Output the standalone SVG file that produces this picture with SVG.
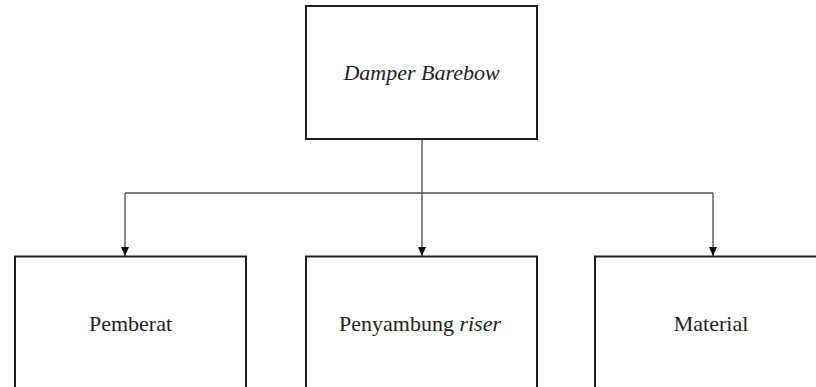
<svg xmlns="http://www.w3.org/2000/svg" width="816" height="387" viewBox="0 0 816 387">
<defs>
<style>
.box{fill:#fff;stroke:#1e1e1e;stroke-width:2}
.lbl{font-family:"Liberation Serif","Times New Roman",serif;font-size:22px;fill:#222;text-anchor:middle}
.it{font-style:italic}
.con{fill:none;stroke:#555;stroke-width:1.4}
</style>
<marker id="ah" markerWidth="10" markerHeight="10" refX="9" refY="4.5" orient="auto" markerUnits="userSpaceOnUse" viewBox="0 0 10 10">
<path d="M0,0.5 L9,4.5 L0,8.5 Z" fill="#000"/>
</marker>
</defs>
<rect width="816" height="387" fill="#fff"/>
<g id="connectors">
<line class="con" x1="422" y1="139" x2="422" y2="256" marker-end="url(#ah)"/>
<line class="con" x1="125" y1="193" x2="713" y2="193"/>
<line class="con" x1="125" y1="193" x2="125" y2="256" marker-end="url(#ah)"/>
<line class="con" x1="713" y1="193" x2="713" y2="256" marker-end="url(#ah)"/>
</g>
<g id="damper">
<rect class="box" x="306" y="6" width="231" height="133"/>
<text class="lbl it" x="421.5" y="80">Damper Barebow</text>
</g>
<g id="pemberat">
<rect class="box" x="15" y="256.5" width="231" height="150"/>
<text class="lbl" x="130.5" y="331">Pemberat</text>
</g>
<g id="penyambung">
<rect class="box" x="306" y="256.5" width="231" height="150"/>
<text class="lbl" x="420" y="331">Penyambung <tspan class="it">riser</tspan></text>
</g>
<g id="material">
<rect class="box" x="595" y="256.5" width="236" height="150"/>
<text class="lbl" x="711" y="331">Material</text>
</g>
</svg>
